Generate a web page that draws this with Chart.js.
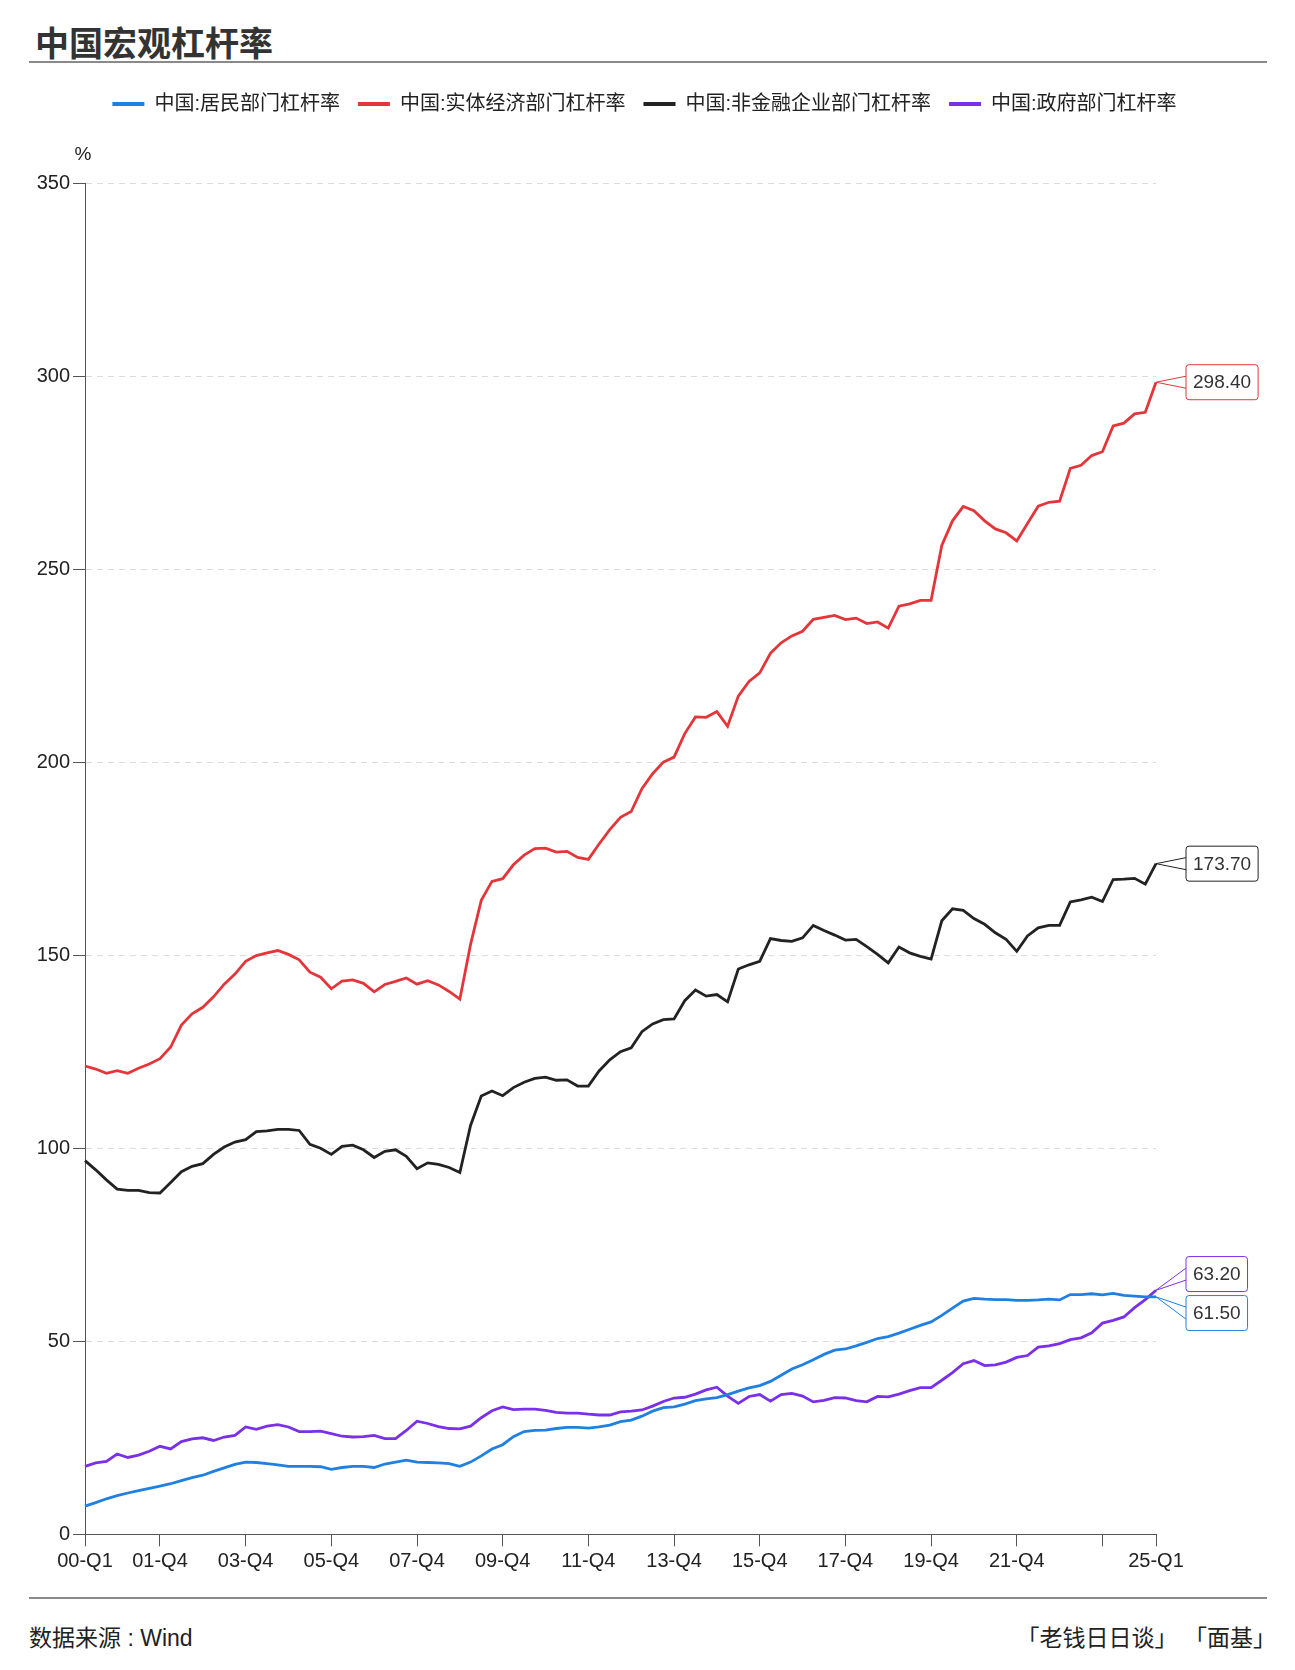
<!DOCTYPE html>
<html>
<head>
<meta charset="utf-8">
<title>中国宏观杠杆率</title>
<script src="https://cdn.jsdelivr.net/npm/chart.js@4.4.1/dist/chart.umd.min.js"></script>
<style>
html, body { margin: 0; padding: 0; background: #fff; }
body { width: 1295px; height: 1670px; position: relative; overflow: hidden;
       font-family: 'Liberation Sans', 'Noto Sans CJK SC', sans-serif; }
#title { position: absolute; left: 35px; top: 20px; font-size: 34px; font-weight: bold;
         color: #333; line-height: 44px; font-family: 'Noto Sans CJK SC', sans-serif; }
.rule { position: absolute; left: 29px; width: 1238px; height: 2px; background: #8a8a8a; }
#wrap { position: absolute; left: 0; top: 70px; width: 1295px; height: 1510px; }
.foot { position: absolute; top: 1620px; font-size: 23px; color: #222; line-height: 36px; white-space: pre; }
</style>
</head>
<body>
<div id="title">中国宏观杠杆率</div>
<div class="rule" style="top:61px"></div>
<div id="wrap"><canvas id="linechart"></canvas></div>
<div class="rule" style="top:1597px"></div>
<div class="foot" style="left:29px">数据来源 : Wind</div>
<div class="foot" style="right:19px">「老钱日日谈」 「面基」</div>
<script>
// quarters 00-Q1 ... 25-Q1
const quarters = [];
for (let y = 0; y <= 25; y++) {
    for (let q = 1; q <= 4; q++) {
        if (y === 25 && q > 1) break;
        quarters.push(String(y).padStart(2, '0') + '-Q' + q);
    }
}
// which quarters get a tick on the x axis (23-Q4 has a tick but no label)
const tickIdx = [0, 7, 15, 23, 31, 39, 47, 55, 63, 71, 79, 87, 95, 100];
const noLabelIdx = [95];
const yTicks = { min: 0, max: 350, step: 50 };

const seriesNames = ['中国:居民部门杠杆率', '中国:实体经济部门杠杆率', '中国:非金融企业部门杠杆率', '中国:政府部门杠杆率'];
const seriesColors = ['#1f80e2', '#e3363b', '#222222', '#7a30e8'];

const household = [
    7.3, 8.2, 9.2, 10.0, 10.7, 11.3, 11.9, 12.5, 13.1, 13.9,
    14.7, 15.3, 16.3, 17.2, 18.1, 18.7, 18.6, 18.3, 18.0, 17.6,
    17.6, 17.6, 17.5, 16.8, 17.3, 17.6, 17.6, 17.3, 18.2, 18.7,
    19.2, 18.7, 18.6, 18.5, 18.3, 17.6, 18.7, 20.3, 22.1, 23.2,
    25.3, 26.6, 26.9, 27.0, 27.4, 27.7, 27.7, 27.5, 27.8, 28.3,
    29.2, 29.6, 30.6, 31.9, 32.8, 33.0, 33.7, 34.6, 35.1, 35.4,
    36.2, 37.1, 37.9, 38.5, 39.6, 41.2, 42.8, 43.9, 45.2, 46.6,
    47.7, 48.0, 48.8, 49.7, 50.7, 51.2, 52.1, 53.1, 54.1, 55.0,
    56.7, 58.6, 60.4, 61.1, 60.9, 60.8, 60.8, 60.6, 60.6, 60.7,
    60.9, 60.7, 62.1, 62.1, 62.3, 62.0, 62.4, 61.9, 61.7, 61.5,
    61.5
];
const realEconomy = [
    121.3, 120.5, 119.4, 120.1, 119.4, 120.7, 121.8, 123.2, 126.2, 131.9,
    134.8, 136.5, 139.2, 142.5, 145.1, 148.4, 149.9, 150.6, 151.2, 150.2,
    148.8, 145.6, 144.3, 141.3, 143.3, 143.6, 142.7, 140.5, 142.4, 143.2,
    144.1, 142.5, 143.4, 142.3, 140.6, 138.6, 152.8, 164.2, 169.1, 169.8,
    173.4, 175.9, 177.6, 177.7, 176.7, 176.9, 175.3, 174.8, 178.8, 182.5,
    185.7, 187.2, 193.1, 197.0, 200.0, 201.3, 207.4, 211.7, 211.6, 213.1,
    209.3, 217.1, 220.9, 223.1, 228.2, 230.9, 232.7, 233.9, 237.0, 237.5,
    238.0, 236.9, 237.3, 235.9, 236.3, 234.7, 240.4, 241.0, 241.9, 241.9,
    256.1, 262.5, 266.2, 265.1, 262.5, 260.4, 259.4, 257.3, 261.8, 266.3,
    267.3, 267.6, 276.1, 276.9, 279.4, 280.4, 287.1, 287.8, 290.2, 290.6,
    298.4
];
const nonFinCorp = [
    96.8, 94.4, 91.8, 89.4, 89.1, 89.1, 88.5, 88.4, 91.1, 93.9,
    95.3, 96.0, 98.4, 100.3, 101.6, 102.2, 104.3, 104.5, 104.9, 104.9,
    104.6, 101.0, 100.0, 98.4, 100.5, 100.8, 99.6, 97.6, 99.2, 99.6,
    97.9, 94.7, 96.2, 95.8, 95.0, 93.7, 105.9, 113.5, 114.8, 113.6,
    115.7, 117.1, 118.1, 118.4, 117.6, 117.7, 116.1, 116.1, 120.0, 122.9,
    125.0, 126.0, 130.2, 132.2, 133.3, 133.5, 138.2, 141.0, 139.4, 139.8,
    137.9, 146.4, 147.5, 148.4, 154.3, 153.8, 153.6, 154.5, 157.7, 156.4,
    155.2, 153.9, 154.1, 152.2, 150.2, 148.0, 152.1, 150.6, 149.7, 149.0,
    158.9, 162.0, 161.6, 159.5, 158.0, 155.8, 154.1, 151.0, 155.0, 157.1,
    157.7, 157.7, 163.8, 164.3, 165.0, 163.9, 169.6, 169.7, 169.9, 168.4,
    173.7
];
const government = [
    17.6, 18.5, 18.9, 20.8, 19.9, 20.5, 21.5, 22.8, 22.1, 24.0,
    24.7, 25.0, 24.3, 25.2, 25.6, 27.8, 27.2, 28.0, 28.4, 27.8,
    26.6, 26.6, 26.7, 26.1, 25.4, 25.2, 25.3, 25.6, 24.8, 24.8,
    26.9, 29.3, 28.7, 27.9, 27.4, 27.3, 28.0, 30.2, 32.0, 33.0,
    32.3, 32.4, 32.4, 32.1, 31.6, 31.4, 31.4, 31.1, 30.9, 30.9,
    31.7, 31.9, 32.2, 33.2, 34.4, 35.3, 35.5, 36.3, 37.4, 38.1,
    35.8, 33.9, 35.7, 36.2, 34.5, 36.2, 36.5, 35.8, 34.3, 34.7,
    35.4, 35.3, 34.6, 34.3, 35.7, 35.6, 36.3, 37.2, 38.0, 38.0,
    39.9, 41.9, 44.2, 45.0, 43.7, 43.9, 44.6, 45.8, 46.3, 48.5,
    48.8, 49.4, 50.4, 50.9, 52.2, 54.7, 55.4, 56.3, 58.7, 60.8,
    63.2
];

Chart.defaults.font.family = "'Liberation Sans', 'Noto Sans CJK SC', sans-serif";
Chart.defaults.color = '#222';

// push the chart area down under the legend
const legendSpace = {
    id: 'legendSpace',
    beforeInit(chart) {
        const fit = chart.legend.fit;
        chart.legend.fit = function () {
            fit.call(this);
            this.height = 107;
        };
    }
};

// "%" unit above the y axis
const unitLabel = {
    id: 'unitLabel',
    afterDraw(chart) {
        const { ctx, chartArea } = chart;
        ctx.save();
        ctx.font = "19px 'Liberation Sans', sans-serif";
        ctx.fillStyle = '#222';
        ctx.textAlign = 'center';
        ctx.textBaseline = 'middle';
        ctx.fillText('%', chartArea.left - 2, chartArea.top - 28);
        ctx.restore();
    }
};

// boxed value labels at the last point of each line
const endLabels = {
    id: 'endLabels',
    afterDatasetsDraw(chart) {
        const ctx = chart.ctx;
        const boxH = 35, gap = 4;
        const items = chart.data.datasets.map((ds, i) => {
            const meta = chart.getDatasetMeta(i);
            const pt = meta.data[meta.data.length - 1];
            return { px: pt.x, py: pt.y, cy: pt.y, color: ds.borderColor,
                     text: ds.data[ds.data.length - 1].toFixed(2) };
        });
        items.sort((a, b) => a.py - b.py);
        for (let k = 0; k < 6; k++) {
            for (let i = 1; i < items.length; i++) {
                const a = items[i - 1], b = items[i];
                const need = boxH + gap - (b.cy - a.cy);
                if (need > 0) { a.cy -= need / 2; b.cy += need / 2; }
            }
        }
        ctx.save();
        ctx.font = "19px 'Liberation Sans', sans-serif";
        items.forEach(it => {
            const bx = it.px + 30;
            const bw = ctx.measureText(it.text).width + 14;
            const by = it.cy - boxH / 2;
            ctx.strokeStyle = it.color;
            ctx.lineWidth = 1;
            ctx.beginPath();
            ctx.moveTo(bx, it.cy - 6);
            ctx.lineTo(it.px, it.py);
            ctx.lineTo(bx, it.cy + 6);
            ctx.stroke();
            ctx.beginPath();
            ctx.roundRect(bx, by, bw, boxH, 3);
            ctx.fillStyle = '#fff';
            ctx.fill();
            ctx.stroke();
            ctx.fillStyle = '#333';
            ctx.textBaseline = 'middle';
            ctx.textAlign = 'left';
            ctx.fillText(it.text, bx + 7, it.cy + 1);
        });
        ctx.restore();
    }
};

const allSeries = [household, realEconomy, nonFinCorp, government];

new Chart(document.getElementById('linechart').getContext('2d'), {
    type: 'line',
    data: {
        labels: quarters,
        datasets: allSeries.map((d, i) => ({
            label: seriesNames[i],
            data: d,
            borderColor: seriesColors[i],
            backgroundColor: seriesColors[i],
            borderWidth: 2.8,
            pointRadius: 0,
            tension: 0
        }))
    },
    options: {
        responsive: true,
        maintainAspectRatio: false,
        animation: false,
        layout: { padding: { top: 6, left: 22, right: 28, bottom: 5.7 } },
        plugins: {
            legend: {
                position: 'top',
                align: 'center',
                labels: {
                    boxWidth: 32,
                    boxHeight: 4,
                    padding: 18,
                    color: '#222',
                    font: { size: 20 },
                    generateLabels: ch => ch.data.datasets.map((ds, i) => ({
                        text: ds.label, fillStyle: ds.borderColor, strokeStyle: ds.borderColor,
                        lineWidth: 0, hidden: false, datasetIndex: i, fontColor: '#222'
                    }))
                }
            },
            tooltip: { enabled: false }
        },
        scales: {
            x: {
                type: 'category',
                offset: false,
                grid: { display: true, drawOnChartArea: false, drawTicks: true, tickLength: 12, tickColor: '#555', tickWidth: 1 },
                border: { display: true, color: '#555', width: 1 },
                afterBuildTicks: s => { s.ticks = tickIdx.map(i => ({ value: i })); },
                ticks: {
                    autoSkip: false,
                    maxRotation: 0,
                    padding: 3,
                    color: '#222',
                    font: { size: 20 },
                    callback: v => noLabelIdx.includes(v) ? '' : quarters[v]
                },
                afterFit: s => { s.height = 40; }
            },
            y: {
                min: yTicks.min,
                max: yTicks.max,
                ticks: { stepSize: yTicks.step, padding: 3, color: '#222', font: { size: 20 } },
                grid: { color: '#dcdcdc', lineWidth: 1, drawTicks: true, tickLength: 12, tickColor: '#555', tickWidth: 1, tickBorderDash: [] },
                border: { display: true, color: '#555', width: 1, dash: [6, 5] },
                afterFit: s => { s.width = 63; }
            },
            y2: {
                position: 'right',
                display: true,
                grid: { display: false },
                border: { display: false },
                ticks: { display: false },
                afterFit: s => { s.width = 111; }
            }
        }
    },
    plugins: [legendSpace, unitLabel, endLabels]
});
</script>
</body>
</html>
